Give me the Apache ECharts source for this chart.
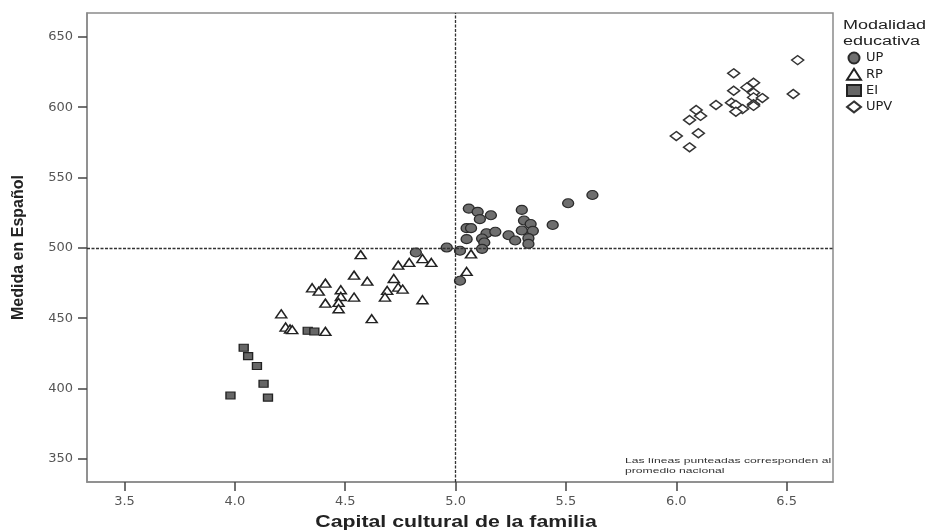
<!DOCTYPE html>
<html>
<head>
<meta charset="utf-8">
<script src="https://cdn.jsdelivr.net/npm/echarts@6/dist/echarts.min.js"></script>
<style>html,body{margin:0;padding:0;background:#fff}#c{width:929px;height:532px}</style>
</head>
<body>
<div id="c"></div>
<script>
var xTicks = [3.5, 4.0, 4.5, 5.0, 5.5, 6.0, 6.5];
var yTicks = [350, 400, 450, 500, 550, 600, 650];
var meanX = 5.0;
var meanY = 500;

var UP = [
  [4.82, 496.7], [4.96, 500.2], [5.02, 497.9], [5.02, 476.6], [5.06, 527.9],
  [5.10, 525.6], [5.16, 523.2], [5.11, 520.4], [5.05, 514.0], [5.07, 514.0],
  [5.05, 506.2], [5.14, 510.4], [5.18, 511.4], [5.12, 506.6], [5.13, 503.8],
  [5.12, 499.3], [5.30, 527.0], [5.31, 519.4], [5.34, 517.0], [5.35, 512.1],
  [5.30, 512.3], [5.24, 509.0], [5.27, 505.2], [5.33, 506.9], [5.33, 502.8],
  [5.44, 516.3], [5.51, 531.7], [5.62, 537.6]
];
var RP = [
  [4.57, 495.2], [4.79, 489.6], [4.74, 487.7], [4.85, 492.4], [4.89, 489.6],
  [4.54, 480.6], [4.60, 476.3], [4.72, 478.2], [4.41, 474.9], [4.35, 471.6],
  [4.38, 469.2], [4.48, 470.2], [4.69, 469.7], [4.74, 472.1], [4.76, 470.7],
  [4.48, 465.4], [4.54, 465.0], [4.68, 465.0], [4.47, 461.2], [4.41, 460.7],
  [4.47, 456.7], [4.85, 463.1], [4.21, 453.1], [4.62, 449.6], [4.23, 443.7],
  [4.25, 442.3], [4.26, 441.8], [4.41, 440.6], [5.07, 495.7], [5.05, 483.2]
];
var EI = [
  [4.04, 429.0], [4.06, 423.0], [4.10, 416.0], [4.13, 403.4], [3.98, 395.0],
  [4.15, 393.5], [4.33, 441.0], [4.36, 440.5]
];
var UPV = [
  [6.55, 633.5], [6.26, 624.1], [6.32, 614.1], [6.35, 617.4], [6.26, 611.7],
  [6.53, 609.4], [6.35, 610.3], [6.35, 607.0], [6.39, 606.5], [6.18, 601.6],
  [6.25, 603.2], [6.27, 601.6], [6.30, 598.7], [6.27, 596.8], [6.35, 602.1],
  [6.35, 600.9], [6.09, 598.0], [6.11, 593.8], [6.06, 590.9], [6.10, 581.5],
  [6.00, 579.5], [6.06, 571.5]
];

var chart = echarts.init(document.getElementById('c'), null, {renderer: 'canvas'});
var axisCol = '#8a8a8a';
var labelCol = '#555';
var font = 'Liberation Sans, Arial, sans-serif';
var wide = 'DejaVu Sans, sans-serif';

chart.setOption({
  animation: false,
  backgroundColor: '#fff',
  grid: {left: 87, top: 13, right: 96, bottom: 50, show: true, borderColor: axisCol, borderWidth: 1.5, backgroundColor: 'transparent'},
  xAxis: {
    type: 'value', min: 3.33, max: 6.71,
    axisLine: {show: true, lineStyle: {color: axisCol, width: 1.5}},
    axisTick: {show: true, inside: false, length: 9, lineStyle: {color: '#444', width: 1.5}, customValues: xTicks},
    axisLabel: {color: labelCol, fontFamily: wide, fontSize: 13, margin: 13, customValues: xTicks,
      formatter: function (v) { return v.toFixed(1); }},
    splitLine: {show: false}
  },
  yAxis: {
    type: 'value', min: 333.5, max: 667,
    name: 'Medida en Español', nameLocation: 'middle', nameGap: 60, nameRotate: 90,
    nameTextStyle: {fontFamily: font, fontWeight: 'bold', fontSize: 16, color: '#222'},
    axisLine: {show: true, lineStyle: {color: axisCol, width: 1.5}},
    axisTick: {show: true, inside: false, length: 9, lineStyle: {color: '#444', width: 1.5}, customValues: yTicks},
    axisLabel: {color: labelCol, fontFamily: wide, fontSize: 13, margin: 14, customValues: yTicks},
    splitLine: {show: false}
  },
  legend: {
    orient: 'vertical', left: 846, top: 51, itemGap: 2.3, itemWidth: 14, itemHeight: 11, padding: 0,
    textStyle: {fontFamily: wide, fontSize: 13, lineHeight: 14, color: '#222'},
    data: ['UP', 'RP', 'EI', 'UPV']
  },
  graphic: [
    {type: 'text', x: 843, y: 18, scaleX: 1.5, style: {text: 'Modalidad\neducativa', font: '12px ' + font, fill: '#222', lineHeight: 16, verticalAlign: 'top'}},
    {type: 'text', x: 456, y: 523, scaleX: 1.33, style: {text: 'Capital cultural de la familia', font: 'bold 16px ' + font, fill: '#222', align: 'center', verticalAlign: 'middle'}},
    {type: 'text', x: 625, y: 456, scaleX: 1.52, style: {text: 'Las líneas punteadas corresponden al\npromedio nacional', font: '8px ' + font, fill: '#333', lineHeight: 10, verticalAlign: 'top'}}
  ],
  series: [
    {name: 'UP', type: 'scatter', symbol: 'circle', symbolSize: [11, 9], data: UP, z: 3,
      itemStyle: {color: '#6e6e6e', borderColor: '#2a2a2a', borderWidth: 1.2, opacity: 1},
      markLine: {silent: true, symbol: 'none', label: {show: false},
        lineStyle: {color: '#333', width: 1.3, type: [3, 1.5]},
        data: [{xAxis: meanX}, {yAxis: meanY}]}},
    {name: 'RP', type: 'scatter', symbol: 'triangle', symbolSize: [11, 8], data: RP, z: 3,
      itemStyle: {color: '#fff', borderColor: '#222', borderWidth: 1.5, opacity: 1}},
    {name: 'EI', type: 'scatter', symbol: 'rect', symbolSize: [9, 7], data: EI, z: 3,
      itemStyle: {color: '#666', borderColor: '#222', borderWidth: 1.2, opacity: 1}},
    {name: 'UPV', type: 'scatter', symbol: 'diamond', symbolSize: [12, 9], data: UPV, z: 3,
      itemStyle: {color: '#fff', borderColor: '#333', borderWidth: 1.5, opacity: 1}}
  ]
});
</script>
</body>
</html>
